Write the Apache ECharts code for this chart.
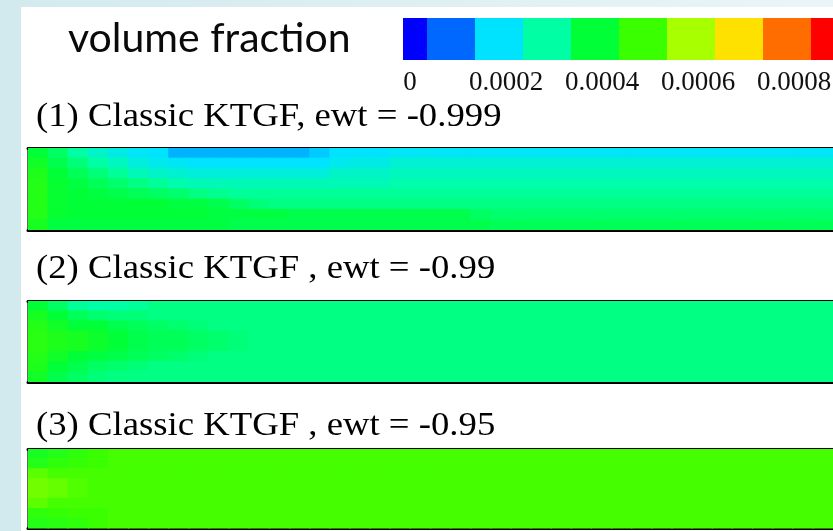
<!DOCTYPE html>
<html>
<head>
<meta charset="utf-8">
<script src="https://cdn.jsdelivr.net/npm/echarts@6/dist/echarts.min.js"></script>
<style>
  html, body { margin: 0; padding: 0; background: #ffffff; }
  #chart { width: 833px; height: 531px; }
</style>
</head>
<body>
<div id="chart"></div>
<script>
// Contour levels of the solid volume fraction (values in units of 1e-4)
const levelValues = [0, 1, 2, 3, 4, 5, 6, 7, 8, 9];
const levelColors = ['#0000ff', '#0068ff', '#00e3ff', '#00ffa4', '#00ff36',
                     '#3aff00', '#a8ff00', '#ffe100', '#ff6c00', '#ff0000'];
const colorbarTickStep = 2;   // labels every 0.0002
const colorbarTitle = 'volume fraction';

const caseLabels = [
  '(1) Classic KTGF, ewt = -0.999',
  '(2) Classic KTGF , ewt = -0.99',
  '(3) Classic KTGF , ewt = -0.95'
];

// Volume fraction fields (x1e-4) along the channel, rows listed from top wall
// to bottom wall; each row is written as [value, number of columns] runs.
const fieldEwt0999 = [
  [[4.0,1],[3.6,1],[3.0,1],[2.6,1],[2.3,1],[2.1,1],[2.0,1],[1.6,7],[1.8,1],[2.0,3],[2.1,22]],
  [[4.3,1],[3.8,1],[3.4,1],[3.0,1],[2.7,1],[2.4,1],[2.2,1],[2.1,1],[2.0,7],[2.2,1],[2.3,2],[2.5,22]],
  [[4.5,1],[4.0,1],[3.7,1],[3.4,1],[3.1,1],[2.8,1],[2.6,1],[2.5,1],[2.4,7],[2.6,3],[2.7,22]],
  [[4.6,1],[4.1,1],[3.9,1],[3.7,1],[3.5,1],[3.3,1],[3.1,1],[2.9,1],[2.8,10],[2.9,22]],
  [[4.6,1],[4.1,1],[4.0,1],[3.9,1],[3.8,1],[3.7,1],[3.6,1],[3.5,1],[3.3,1],[3.2,1],[3.1,30]],
  [[4.6,1],[4.1,1],[4.0,5],[3.9,2],[3.8,1],[3.6,1],[3.4,1],[3.3,28]],
  [[4.6,1],[4.1,1],[4.0,7],[3.9,4],[3.8,9],[3.6,1],[3.5,17]],
  [[4.4,1],[3.9,9],[3.8,13],[3.7,17]]
];
const fieldEwt099 = [
  [[4.0,1],[3.6,1],[3.1,1],[3.0,2],[3.1,1],[3.3,34]],
  [[4.4,1],[4.0,1],[3.7,1],[3.5,1],[3.4,2],[3.3,34]],
  [[4.6,1],[4.3,1],[4.0,2],[3.8,1],[3.7,1],[3.6,1],[3.5,1],[3.4,1],[3.3,31]],
  [[4.7,1],[4.5,1],[4.4,1],[4.2,1],[4.0,1],[3.8,1],[3.7,2],[3.6,1],[3.5,1],[3.4,1],[3.3,29]],
  [[4.7,1],[4.5,1],[4.4,1],[4.2,1],[4.0,1],[3.8,1],[3.7,2],[3.6,1],[3.5,1],[3.4,1],[3.3,29]],
  [[4.6,1],[4.3,1],[4.0,1],[3.9,1],[3.8,1],[3.7,1],[3.6,1],[3.5,1],[3.4,1],[3.3,31]],
  [[4.5,1],[4.0,1],[3.8,1],[3.6,1],[3.5,1],[3.4,1],[3.3,34]],
  [[4.3,1],[3.8,1],[3.6,1],[3.4,1],[3.3,36]]
];
const fieldEwt095 = [
  [[4.4,1],[4.6,1],[4.8,1],[5.0,1],[5.1,36]],
  [[4.6,1],[4.8,1],[4.9,1],[5.0,1],[5.1,36]],
  [[5.3,1],[5.1,2],[5.1,37]],
  [[5.5,1],[5.4,1],[5.2,1],[5.1,37]],
  [[5.5,1],[5.4,1],[5.2,1],[5.1,37]],
  [[5.3,1],[5.1,39]],
  [[4.8,1],[4.9,1],[5.0,1],[5.0,1],[5.1,36]],
  [[4.6,1],[4.7,1],[4.8,1],[5.0,1],[5.1,36]]
];
const caseFields = [fieldEwt0999, fieldEwt099, fieldEwt095];

// ---- build series data -------------------------------------------------
function expandRow(runs) {
  const out = [];
  runs.forEach(([v, n]) => { for (let k = 0; k < n; k++) out.push(v); });
  return out;
}
function toCells(field) {
  const cells = [];
  field.forEach((runs, r) => {
    expandRow(runs).forEach((v, c) => cells.push([c, r, v]));
  });
  return cells;
}
const nCols = expandRow(fieldEwt0999[0]).length;
const nRows = fieldEwt0999.length;
const colCats = Array.from({ length: nCols }, (_, i) => String(i));
const rowCats = Array.from({ length: nRows }, (_, i) => String(i));

// colour-bar bins are centred on each level (first one clipped at zero)
const colorbarBins = levelValues.map(v => [Math.max(0, v - 0.5), v + 0.5, v]);

// ---- layout ------------------------------------------------------------
const stripGrids = [
  { left: 28, right: 0, top: 148, height: 82 },
  { left: 28, right: 0, top: 301, height: 81 },
  { left: 28, right: 0, top: 449, height: 79.5 }
];
const labelTops = [100, 252, 409];

const serifFont = '"Liberation Serif", "Times New Roman", serif';

const grids = [{ left: 403, top: 18, width: 480, height: 42 }].concat(stripGrids)
  .map(g => Object.assign({ outerBoundsMode: 'none', containLabel: false }, g));

const xAxes = [{
  gridIndex: 0, type: 'value', min: 0, max: 10, interval: colorbarTickStep,
  axisLine: { show: false }, axisTick: { show: false }, splitLine: { show: false },
  axisLabel: {
    margin: 9, color: '#111', fontFamily: serifFont, fontSize: 27,
    padding: [0, 0, 0, 14], hideOverlap: false,
    formatter: v => (v === 0 ? '0' : (v * 1e-4).toFixed(4))
  }
}];
const yAxes = [{ gridIndex: 0, type: 'value', min: 0, max: 1, show: false }];
const series = [{
  type: 'custom', xAxisIndex: 0, yAxisIndex: 0,
  data: colorbarBins,
  encode: { x: [0, 1], y: 2 },
  renderItem: function (params, api) {
    const a = api.coord([api.value(0), 1]);
    const b = api.coord([api.value(1), 0]);
    return {
      type: 'rect',
      shape: { x: a[0], y: a[1], width: b[0] - a[0], height: b[1] - a[1] },
      style: { fill: api.visual('color') }
    };
  }
}];

// each field cell is drawn as a rectangle sized by the category bands,
// padded by half a pixel so neighbouring cells leave no seams
function renderCell(params, api) {
  const p = api.coord([api.value(0), api.value(1)]);
  const s = api.size([1, 1]);
  return {
    type: 'rect',
    shape: { x: p[0] - s[0] / 2 - 0.6, y: p[1] - s[1] / 2 - 0.6,
             width: s[0] + 1.2, height: s[1] + 1.2 },
    style: { fill: api.visual('color') }
  };
}

caseFields.forEach((field, i) => {
  const g = i + 1;
  const bottomIdx = xAxes.length;
  xAxes.push({
    gridIndex: g, type: 'category', data: colCats, position: 'bottom',
    axisLine: { show: true, onZero: false, lineStyle: { color: '#000', width: 3 } },
    axisTick: { show: false }, axisLabel: { show: false }, splitLine: { show: false }
  });
  xAxes.push({
    gridIndex: g, type: 'category', data: colCats, position: 'top',
    axisLine: { show: true, onZero: false, lineStyle: { color: '#000', width: 3 } },
    axisTick: { show: false }, axisLabel: { show: false }, splitLine: { show: false }
  });
  const yIdx = yAxes.length;
  yAxes.push({
    gridIndex: g, type: 'category', data: rowCats, inverse: true,
    axisLine: { show: true, onZero: false, lineStyle: { color: '#333', width: 1.5 } },
    axisTick: { show: false }, axisLabel: { show: false }, splitLine: { show: false }
  });
  series.push({
    type: 'custom', xAxisIndex: bottomIdx, yAxisIndex: yIdx,
    data: toCells(field),
    encode: { x: 0, y: 1 },
    clip: true,
    renderItem: renderCell
  });
});

const graphics = [
  { type: 'rect', z: -10, silent: true, shape: { x: 0, y: 0, width: 833, height: 7 },
    style: { fill: new echarts.graphic.LinearGradient(0, 0, 1, 0,
      [{ offset: 0, color: '#d2eaee' }, { offset: 1, color: '#eaf5f7' }]) } },
  { type: 'rect', z: -10, silent: true, shape: { x: 0, y: 0, width: 21, height: 531 },
    style: { fill: '#d2eaee' } },
  { type: 'text', x: 68, y: 18, z: 10, silent: true,
    style: { text: colorbarTitle, font: '41px Lato, "Open Sans", sans-serif', fill: '#0a0a0a',
             verticalAlign: 'top' } }
];
caseLabels.forEach((t, i) => {
  graphics.push({
    type: 'text', x: 36, y: labelTops[i], scaleX: 1.08, z: 10, silent: true,
    style: { text: t, font: '34px ' + serifFont, fill: '#000', verticalAlign: 'top' }
  });
});

const chart = echarts.init(document.getElementById('chart'), null, { renderer: 'canvas' });
chart.setOption({
  backgroundColor: '#ffffff',
  animation: false,
  grid: grids,
  xAxis: xAxes,
  yAxis: yAxes,
  visualMap: {
    type: 'continuous', show: false, min: 0, max: 9,
    dimension: 2, seriesIndex: [0, 1, 2, 3],
    inRange: { color: levelColors }
  },
  graphic: graphics,
  series: series
});
</script>
</body>
</html>
